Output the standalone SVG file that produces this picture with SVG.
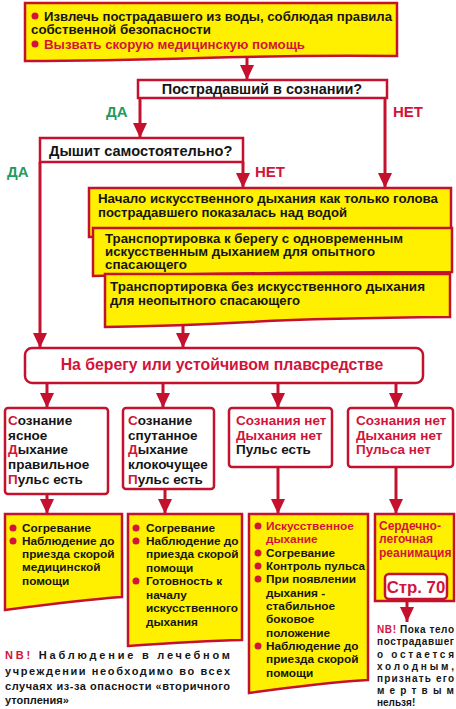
<svg xmlns="http://www.w3.org/2000/svg" width="456" height="709" viewBox="0 0 456 709">
<defs>
<style>
.y{fill:#FFF000;stroke:#C4122E;stroke-width:2.5;stroke-linejoin:miter}
.w{fill:#fff;stroke:#C4122E;stroke-width:2.5}
.t{font-family:"Liberation Sans",Arial,sans-serif;font-weight:bold;fill:#151515}
.r{fill:#D2143A}
.g{fill:#1F9A60}
.c{stroke:#C4122E;stroke-width:3;fill:none;marker-end:url(#a)}
.d{fill:#D2143A}
</style>
<marker id="a" markerUnits="userSpaceOnUse" markerWidth="15" markerHeight="14" viewBox="0 0 15 14" refX="15" refY="7" orient="auto">
<path d="M0,0 L15,7 L0,14 Z" fill="#C4122E"/>
</marker>
</defs>

<g id="connectors">
<path class="c" d="M247,57 V80"/>
<path class="c" d="M140,98 V138"/>
<path class="c" d="M385,98 V188"/>
<path class="c" d="M243,162 V188"/>
<path class="c" d="M40,162 V348"/>
<path class="c" d="M183,320 V348"/>
<path class="c" d="M47,383 V408"/>
<path class="c" d="M163,383 V408"/>
<path class="c" d="M278,383 V408"/>
<path class="c" d="M396,383 V408"/>
<path class="c" d="M47,494 V514"/>
<path class="c" d="M165,489 V514"/>
<path class="c" d="M278,467 V514"/>
<path class="c" d="M396,467 V514"/>
<path class="c" d="M407,599 V622"/>
</g>

<g id="n-top">
<path class="y" d="M25,3 H397 V56 Q300,55 200,58 T25,61 Z"/>
<circle class="d" cx="35" cy="16" r="3.5"/>
<text class="t" x="44" y="21" font-size="12.5" textLength="348" lengthAdjust="spacingAndGlyphs">Извлечь пострадавшего из воды, соблюдая правила</text>
<text class="t" x="31" y="34" font-size="12.5" textLength="180" lengthAdjust="spacingAndGlyphs">собственной безопасности</text>
<circle class="d" cx="35" cy="44" r="3.5"/>
<text class="t r" x="44" y="49" font-size="12.5" textLength="261" lengthAdjust="spacingAndGlyphs">Вызвать скорую медицинскую помощь</text>
</g>

<g id="n-q1">
<rect class="w" x="138" y="80" width="249" height="18"/>
<text class="t" x="262" y="94" font-size="14.5" text-anchor="middle">Пострадавший в сознании?</text>
</g>

<g id="labels">
<text class="t g" x="106" y="117" font-size="15">ДА</text>
<text class="t r" x="393" y="117" font-size="15">НЕТ</text>
<text class="t g" x="7" y="177" font-size="15">ДА</text>
<text class="t r" x="255" y="177" font-size="15">НЕТ</text>
</g>

<g id="n-q2">
<rect class="w" x="40" y="138" width="203" height="24"/>
<text class="t" x="49" y="156" font-size="14.6">Дышит самостоятельно?</text>
</g>

<g id="n-a">
<path class="y" d="M89,188 H451 V230 L89,237 Z"/>
<text class="t" x="98" y="203" font-size="13" textLength="340" lengthAdjust="spacingAndGlyphs">Начало искусственного дыхания как только голова</text>
<text class="t" x="98" y="217" font-size="13" textLength="249" lengthAdjust="spacingAndGlyphs">пострадавшего показалась над водой</text>
</g>

<g id="n-b">
<path class="y" d="M93,228 H452 V272 Q300,272 93,276 Z"/>
<text class="t" x="105" y="243" font-size="12.5" textLength="298" lengthAdjust="spacingAndGlyphs">Транспортировка к берегу с одновременным</text>
<text class="t" x="105" y="256" font-size="12.5" textLength="270" lengthAdjust="spacingAndGlyphs">искусственным дыханием для опытного</text>
<text class="t" x="105" y="269" font-size="12.5" textLength="82" lengthAdjust="spacingAndGlyphs">спасающего</text>
</g>

<g id="n-c">
<path class="y" d="M105,274 H450 V317 Q320,318 250,322 T105,327 Z"/>
<text class="t" x="110" y="291" font-size="13" textLength="315" lengthAdjust="spacingAndGlyphs">Транспортировка  без искусственного дыхания</text>
<text class="t" x="110" y="305" font-size="13" textLength="190" lengthAdjust="spacingAndGlyphs">для неопытного спасающего</text>
</g>

<g id="n-shore">
<rect class="w" x="25" y="348" width="398" height="35" rx="7"/>
<text class="t r" x="222" y="370" font-size="15.8" text-anchor="middle">На берегу или устойчивом плавсредстве</text>
</g>

<g id="n-s1">
<rect class="w" x="5" y="408" width="103" height="86" rx="3"/>
<text class="t" font-size="13.5">
<tspan x="8" y="425"><tspan class="r">С</tspan>ознание</tspan>
<tspan x="8" y="440">ясное</tspan>
<tspan x="8" y="454"><tspan class="r">Д</tspan>ыхание</tspan>
<tspan x="8" y="469">правильное</tspan>
<tspan x="8" y="484"><tspan class="r">П</tspan>ульс есть</tspan>
</text>
</g>

<g id="n-s2">
<rect class="w" x="123" y="408" width="91" height="81" rx="3"/>
<text class="t" font-size="13.5">
<tspan x="128" y="425"><tspan class="r">С</tspan>ознание</tspan>
<tspan x="128" y="440">спутанное</tspan>
<tspan x="128" y="454"><tspan class="r">Д</tspan>ыхание</tspan>
<tspan x="128" y="469">клокочущее</tspan>
<tspan x="128" y="484"><tspan class="r">П</tspan>ульс есть</tspan>
</text>
</g>

<g id="n-s3">
<rect class="w" x="229" y="408" width="103" height="59" rx="3"/>
<text class="t" font-size="13.5">
<tspan class="r" x="236" y="425">Сознания нет</tspan>
<tspan class="r" x="236" y="440">Дыхания нет</tspan>
<tspan x="236" y="454">Пульс есть</tspan>
</text>
</g>

<g id="n-s4">
<rect class="w" x="348" y="408" width="105" height="59" rx="3"/>
<text class="t r" font-size="13.5">
<tspan x="356" y="425">Сознания нет</tspan>
<tspan x="356" y="440">Дыхания нет</tspan>
<tspan x="356" y="454">Пульса нет</tspan>
</text>
</g>

<g id="n-y1">
<path class="y" d="M5,514 H122 V597 Q80,600 5,610 Z"/>
<circle class="d" cx="13" cy="528" r="3.5"/>
<circle class="d" cx="13" cy="541" r="3.5"/>
<text class="t" font-size="11.8">
<tspan x="22" y="532">Согревание</tspan>
<tspan x="22" y="545">Наблюдение до</tspan>
<tspan x="22" y="558">приезда скорой</tspan>
<tspan x="22" y="571">медицинской</tspan>
<tspan x="22" y="585">помощи</tspan>
</text>
</g>

<g id="n-y2">
<path class="y" d="M128,514 H242 V640 Q200,641 128,646 Z"/>
<circle class="d" cx="136" cy="528" r="3.5"/>
<circle class="d" cx="136" cy="541" r="3.5"/>
<circle class="d" cx="136" cy="581" r="3.5"/>
<text class="t" font-size="11.8">
<tspan x="146" y="532">Согревание</tspan>
<tspan x="146" y="545">Наблюдение до</tspan>
<tspan x="146" y="558">приезда скорой</tspan>
<tspan x="146" y="572">помощи</tspan>
<tspan x="146" y="585">Готовность к</tspan>
<tspan x="146" y="599">началу</tspan>
<tspan x="146" y="612">искусственного</tspan>
<tspan x="146" y="626">дыхания</tspan>
</text>
</g>

<g id="n-y3">
<path class="y" d="M249,514 H368 V680 Q320,683 249,693 Z"/>
<circle class="d" cx="258" cy="526" r="3.5"/>
<circle class="d" cx="258" cy="553" r="3.5"/>
<circle class="d" cx="258" cy="566" r="3.5"/>
<circle class="d" cx="258" cy="579" r="3.5"/>
<circle class="d" cx="258" cy="646" r="3.5"/>
<text class="t" font-size="11.8">
<tspan class="r" x="266" y="530">Искусственное</tspan>
<tspan class="r" x="266" y="543">дыхание</tspan>
<tspan x="266" y="557">Согревание</tspan>
<tspan x="266" y="570" textLength="99" lengthAdjust="spacingAndGlyphs">Контроль пульса</tspan>
<tspan x="266" y="583">При появлении</tspan>
<tspan x="266" y="597">дыхания -</tspan>
<tspan x="266" y="610">стабильное</tspan>
<tspan x="266" y="623">боковое</tspan>
<tspan x="266" y="637">положение</tspan>
<tspan x="266" y="650">Наблюдение до</tspan>
<tspan x="266" y="663">приезда скорой</tspan>
<tspan x="266" y="677">помощи</tspan>
</text>
</g>

<g id="n-y4">
<rect class="y" x="375" y="514" width="79" height="87"/>
<text class="t r" font-size="12">
<tspan x="379" y="530">Сердечно-</tspan>
<tspan x="379" y="543">легочная</tspan>
<tspan x="379" y="557">реанимация</tspan>
</text>
<rect class="w" x="385" y="574" width="62" height="25" rx="4"/>
<text class="t r" x="416" y="593" font-size="16.8" text-anchor="middle">Стр. 70</text>
</g>

<g id="n-nb1">
<text class="t" font-size="11">
<tspan x="5" y="659" textLength="225" lengthAdjust="spacing"><tspan class="r">NB!</tspan> Наблюдение в лечебном</tspan>
<tspan x="5" y="675" textLength="225" lengthAdjust="spacing">учреждении необходимо во всех</tspan>
<tspan x="5" y="690" textLength="225" lengthAdjust="spacing">случаях из-за опасности «вторичного</tspan>
<tspan x="5" y="704">утопления»</tspan>
</text>
</g>

<g id="n-nb2">
<text class="t" font-size="10">
<tspan x="377" y="633" textLength="77" lengthAdjust="spacing"><tspan class="r">NB!</tspan> Пока тело</tspan>
<tspan x="377" y="645" textLength="77" lengthAdjust="spacing">пострадавшег</tspan>
<tspan x="377" y="657.5" textLength="77" lengthAdjust="spacing">о остается</tspan>
<tspan x="377" y="669.5" textLength="77" lengthAdjust="spacing">холодным,</tspan>
<tspan x="377" y="682" textLength="77" lengthAdjust="spacing">признать его</tspan>
<tspan x="377" y="694" textLength="77" lengthAdjust="spacing">мертвым</tspan>
<tspan x="377" y="706">нельзя!</tspan>
</text>
</g>
</svg>
